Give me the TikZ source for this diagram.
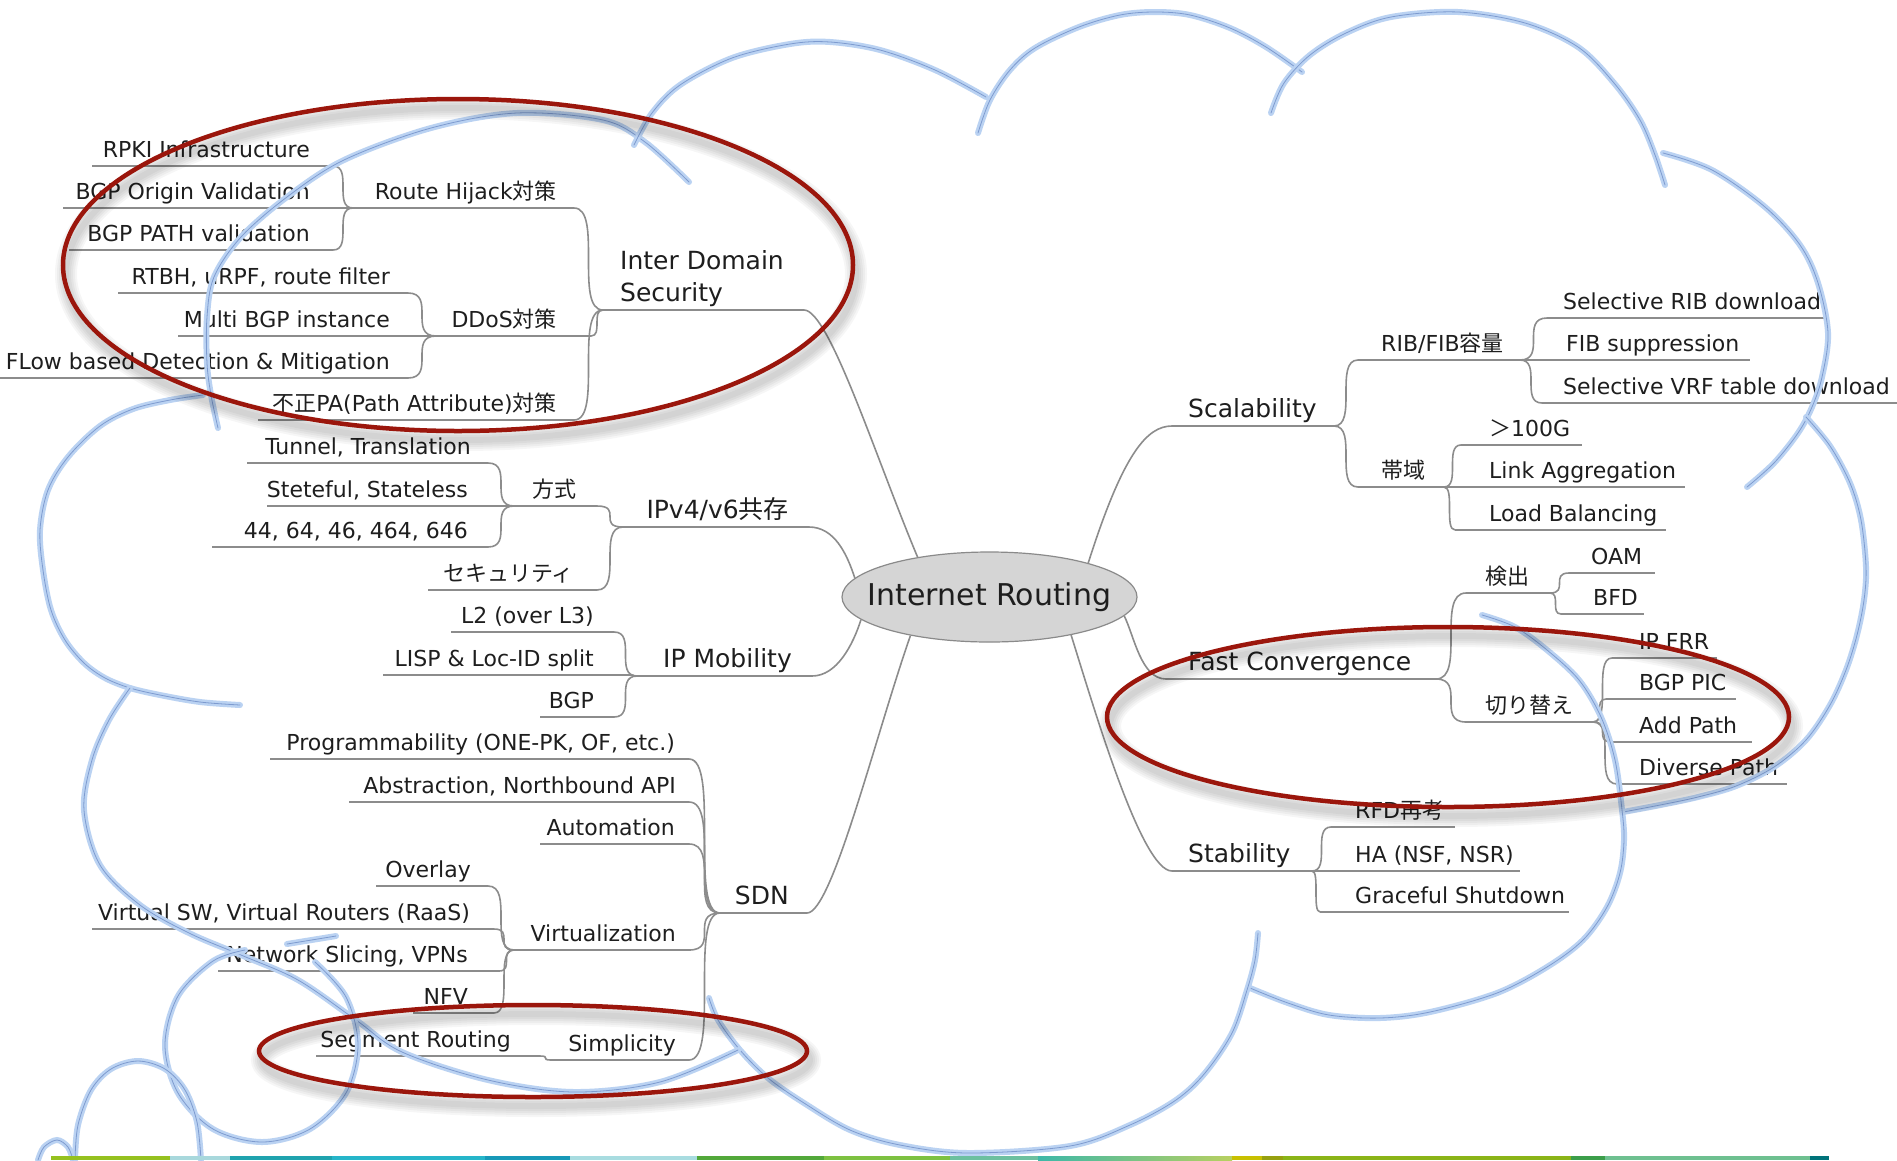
\documentclass[tikz,border=0pt]{standalone}
\usepackage{fontspec}
\usetikzlibrary{shapes.geometric}
\setmainfont{DejaVu Sans}
\newfontfamily\jp{Noto Sans CJK JP}
\newcommand\J[1]{{\jp #1}}

\definecolor{ink}{HTML}{1E1E1E}
\definecolor{branchline}{HTML}{8C8C8C}
\definecolor{rootfill}{HTML}{D5D5D5}
\definecolor{rootedge}{HTML}{8A8A8A}
\definecolor{ringred}{RGB}{155,22,12}
\definecolor{cloudlight}{HTML}{BAD2F2}
\definecolor{clouddark}{HTML}{7E9BCF}
\definecolor{stripfrom}{HTML}{3DB8A8}
\definecolor{stripto}{HTML}{B8D060}

\tikzset{
  leaf/.style={font=\fontsize{22}{26}\selectfont, text=ink, inner sep=0pt},
  branch/.style={font=\fontsize{25}{32}\selectfont, text=ink, inner sep=0pt},
  uline/.style={draw=branchline, line width=1.6pt},
  conn/.style={draw=branchline, line width=1.6pt},
  rootnode/.style={ellipse, draw=rootedge, line width=1.2pt, fill=rootfill,
    minimum width=295pt, minimum height=90pt, inner sep=0pt,
    font=\fontsize{30}{36}\selectfont, text=ink},
  ring/.style={draw=ringred, line width=4.5pt},
  ringshadow/.style={draw=black, opacity=0.035},
  cloudwide/.style={draw=cloudlight, line width=6pt, line cap=round},
  cloudthin/.style={draw=clouddark, line width=0.8pt, line cap=round},
}

% topic: [style]{name}{anchor side}{text x}{underline y}{underline x1}{underline x2}{text}
\newcommand\topic[8][leaf]{%
  \node[#1, anchor=base #3] (#2) at (#4,#5-9) {#8};
  \coordinate (#2L) at (#6,#5);
  \coordinate (#2R) at (#7,#5);
  \draw[uline] (#2L) -- (#2R);}
% curved connector between two underline ends
\newcommand\link[2]{\draw[conn] (#1) .. controls (#1 -| #2) and (#2 -| #1) .. (#2);}
% one scalloped stroke of the cloud outline
\newcommand\cloudarc[1]{%
  \draw[cloudwide] plot[smooth, tension=0.55] coordinates {#1};
  \draw[cloudthin] plot[smooth, tension=0.55] coordinates {#1};}
% red highlight ring with a soft shadow
\newcommand\highlight[4]{%
  \foreach \w in {6,10,14,18,22}
    \draw[ringshadow, line width=\w pt] (#1+3,#2+9) ellipse [x radius=#3, y radius=#4];
  \draw[ring] (#1,#2) ellipse [x radius=#3, y radius=#4];}
% one segment of the colour strip: {x1}{x2}{hex colour}
\newcommand\band[3]{\definecolor{bandcol}{HTML}{#3}\fill[bandcol] (#1,1156) rectangle (#2,1160);}

\begin{document}
\begin{tikzpicture}[x=1pt,y=-1pt]
\useasboundingbox (0,0) rectangle (1897,1160);
\fill[white] (0,0) rectangle (1897,1160);

% ---------- central topic ----------
\node[rootnode] (root) at (989.5,597) {\makebox[0pt]{Internet Routing}};

% ---------- Inter Domain Security ----------
\node[branch, anchor=north west, align=left] (ids) at (620,250) {Inter Domain\\Security};
\coordinate (idsL) at (603,310);
\coordinate (idsR) at (804,310);
\draw[uline] (idsL) -- (idsR);
\topic{rh}{east}{557}{208}{353}{574}{Route Hijack\J{対策}}
\topic{rpki}{east}{310}{166}{92}{333}{RPKI Infrastructure}
\topic{bgpov}{east}{310}{208}{63}{340}{BGP Origin Validation}
\topic{bgppv}{east}{310}{250}{69}{333}{BGP PATH validation}
\topic{ddos}{east}{557}{336}{436}{591}{DDoS\J{対策}}
\topic{rtbh}{east}{390}{293}{118}{408}{RTBH, uRPF, route filter}
\topic{mbgp}{east}{390}{336}{178}{425}{Multi BGP instance}
\topic{flow}{east}{390}{378}{0}{408}{FLow based Detection \& Mitigation}
\topic{fpa}{east}{557}{420}{258}{574}{\J{不正}PA(Path Attribute)\J{対策}}
\link{rpkiR}{rhL} \link{bgpovR}{rhL} \link{bgppvR}{rhL}
\link{rtbhR}{ddosL} \link{mbgpR}{ddosL} \link{flowR}{ddosL}
\link{rhR}{idsL} \link{ddosR}{idsL} \link{fpaR}{idsL}

% ---------- IPv4/v6 ----------
\topic[branch]{ipv}{east}{789}{527}{623}{809}{IPv4/v6\J{共存}}
\topic{hoshiki}{east}{577}{506}{514}{597}{\J{方式}}
\topic{tunnel}{east}{471}{463}{247}{488}{Tunnel, Translation}
\topic{stful}{east}{468}{506}{267}{505}{Steteful, Stateless}
\topic{nums}{east}{468}{547}{212}{488}{44, 64, 46, 464, 646}
\topic{sec}{east}{574}{590}{428}{597}{\J{セキュリティ}}
\link{tunnelR}{hoshikiL} \link{stfulR}{hoshikiL} \link{numsR}{hoshikiL}
\link{hoshikiR}{ipvL} \link{secR}{ipvL}

% ---------- IP Mobility ----------
\topic[branch]{ipm}{east}{792}{676}{637}{812}{IP Mobility}
\topic{ltwo}{east}{594}{632}{451}{614}{L2 (over L3)}
\topic{lisp}{east}{594}{675}{383}{630}{LISP \& Loc-ID split}
\topic{bgp}{east}{594}{717}{540}{614}{BGP}
\link{ltwoR}{ipmL} \link{lispR}{ipmL} \link{bgpR}{ipmL}

% ---------- SDN ----------
\topic[branch]{sdn}{east}{789}{913}{720}{807}{SDN}
\topic{prog}{east}{675}{759}{270}{689}{Programmability (ONE-PK, OF, etc.)}
\topic{abst}{east}{676}{802}{349}{689}{Abstraction, Northbound API}
\topic{auto}{east}{675}{844}{540}{689}{Automation}
\topic{virt}{east}{676}{950}{514}{689}{Virtualization}
\topic{overlay}{east}{471}{886}{376}{488}{Overlay}
\topic{vsw}{east}{470}{929}{92}{494}{Virtual SW, Virtual Routers (RaaS)}
\topic{nslice}{east}{468}{971}{218}{499}{Network Slicing, VPNs}
\topic{nfv}{east}{468}{1013}{413}{494}{NFV}
\topic{simp}{east}{676}{1060}{551}{689}{Simplicity}
\topic{segr}{east}{511}{1056}{316}{540}{Segment Routing}
\link{progR}{sdnL} \link{abstR}{sdnL} \link{autoR}{sdnL}
\link{virtR}{sdnL} \link{simpR}{sdnL}
\link{overlayR}{virtL} \link{vswR}{virtL} \link{nsliceR}{virtL} \link{nfvR}{virtL}
\link{segrR}{simpL}

% ---------- Scalability ----------
\topic[branch]{scal}{west}{1188}{426}{1172}{1334}{Scalability}
\topic{ribfib}{west}{1381}{360}{1358}{1520}{RIB/FIB\J{容量}}
\topic{srib}{west}{1563}{318}{1547}{1825}{Selective RIB download}
\topic{fibs}{west}{1566}{360}{1530}{1750}{FIB suppression}
\topic{svrf}{west}{1563}{403}{1542}{1897}{Selective VRF table download}
\topic{band}{west}{1381}{487}{1358}{1444}{\J{帯域}}
\topic{ghund}{west}{1489}{445}{1461}{1582}{\J{＞}100G}
\topic{link}{west}{1489}{487}{1455}{1685}{Link Aggregation}
\topic{load}{west}{1489}{530}{1455}{1666}{Load Balancing}
\link{scalR}{ribfibL} \link{scalR}{bandL}
\link{ribfibR}{sribL} \link{ribfibR}{fibsL} \link{ribfibR}{svrfL}
\link{bandR}{ghundL} \link{bandR}{linkL} \link{bandR}{loadL}

% ---------- Fast Convergence ----------
\topic[branch]{fc}{west}{1188}{679}{1166}{1436}{Fast Convergence}
\topic{ken}{west}{1485}{593}{1466}{1550}{\J{検出}}
\topic{oam}{west}{1591}{573}{1569}{1655}{OAM}
\topic{bfd}{west}{1593}{614}{1561}{1644}{BFD}
\topic{kir}{west}{1485}{722}{1466}{1593}{\J{切り替え}}
\topic{ipfrr}{west}{1639}{658}{1612}{1717}{IP FRR}
\topic{bgppic}{west}{1639}{699}{1606}{1736}{BGP PIC}
\topic{addp}{west}{1639}{742}{1612}{1752}{Add Path}
\topic{divp}{west}{1639}{784}{1617}{1787}{Diverse Path}
\link{fcR}{kenL} \link{fcR}{kirL}
\link{kenR}{oamL} \link{kenR}{bfdL}
\link{kirR}{ipfrrL} \link{kirR}{bgppicL} \link{kirR}{addpL} \link{kirR}{divpL}

% ---------- Stability ----------
\topic[branch]{stab}{west}{1188}{871}{1172}{1312}{Stability}
\topic{rfd}{west}{1355}{827}{1331}{1455}{RFD\J{再考}}
\topic{ha}{west}{1355}{871}{1320}{1520}{HA (NSF, NSR)}
\topic{grace}{west}{1355}{912}{1320}{1569}{Graceful Shutdown}
\link{stabR}{rfdL} \link{stabR}{haL} \link{stabR}{graceL}

% ---------- main branches to the central topic ----------
\draw[conn] (idsR) .. controls +(25,0) and +(-42,-100) .. (root.151);
\draw[conn] (ipvR) .. controls +(25,0) and +(-8,-25) .. (root.172);
\draw[conn] (ipmR) .. controls +(25,0) and +(-8,25) .. (root.190);
\draw[conn] (sdnR) .. controls +(25,0) and +(-35,100) .. (root.206);
\draw[conn] (scalL) .. controls +(-25,0) and +(35,-110) .. (root.19);
\draw[conn] (fcL) .. controls +(-25,0) and +(10,20) .. (root.352);
\draw[conn] (stabL) .. controls +(-30,0) and +(25,80) .. (root.335);

% ---------- cloud outline ----------
\cloudarc{(218,428) (211,395) (207,363) (207,317) (214,277) (241,237) (287,197) (344,160) (431,128) (517,113) (603,120) (645,142) (689,182)}
\cloudarc{(634,145) (652,113) (680,85) (732,58) (790,44) (830,42) (880,50) (935,70) (986,97)}
\cloudarc{(978,133) (990,100) (1010,70) (1035,48) (1079,27) (1120,15) (1155,12) (1190,15) (1230,28) (1266,47) (1302,72)}
\cloudarc{(1271,113) (1284,83) (1310,55) (1346,33) (1391,17) (1458,12) (1525,23) (1578,47) (1614,83) (1640,120) (1655,155) (1665,185)}
\cloudarc{(1663,153) (1712,170) (1765,207) (1800,245) (1818,283) (1828,333) (1822,377) (1812,407) (1798,433) (1774,463) (1747,487)}
\cloudarc{(1806,417) (1830,446) (1850,483) (1861,520) (1866,567) (1864,600) (1857,635) (1846,670) (1830,705) (1806,740) (1774,767) (1736,786) (1698,797) (1660,805) (1623,812)}
\cloudarc{(1482,615) (1515,627) (1547,650) (1579,680) (1601,717) (1615,760) (1622,810) (1624,840) (1620,873) (1607,907) (1583,940) (1547,967) (1497,993) (1430,1012) (1380,1018) (1329,1015) (1288,1003) (1250,988)}
\cloudarc{(1258,933) (1255,960) (1247,990) (1232,1033) (1205,1073) (1176,1100) (1130,1125) (1070,1146) (968,1153) (900,1145) (850,1130) (804,1103) (768,1078) (740,1050) (718,1020) (709,998)}
\cloudarc{(203,395) (170,400) (133,409) (100,426) (68,457) (48,490) (40,530) (43,570) (51,610) (65,640) (84,663) (105,678) (130,688) (160,695) (200,702) (240,705)}
\cloudarc{(130,688) (109,720) (92,760) (84,810) (100,865) (140,905) (189,933) (241,955) (298,980) (356,1020) (402,1052) (488,1080) (574,1092) (660,1082) (738,1050)}
\cloudarc{(287,944) (336,936)}
\cloudarc{(245,950) (213,961) (178,996) (165,1045) (178,1093) (213,1129) (262,1142) (310,1129) (346,1093) (358,1045) (346,997) (315,962)}
\cloudarc{(75,1160) (78,1125) (91,1090) (111,1069) (138,1061) (165,1069) (185,1090) (197,1122) (201,1160)}
\cloudarc{(38,1160) (44,1147) (57,1140) (68,1147) (73,1160)}

% ---------- highlight rings ----------
\highlight{458}{265}{395}{166}
\highlight{1448}{717}{341}{90}
\highlight{533}{1051}{274}{46}

% ---------- colour strip along the bottom ----------
\band{51}{170}{95C11F}
\band{170}{230}{A8D8DC}
\band{230}{332}{1FA3AE}
\band{332}{485}{26B5C9}
\band{485}{570}{1799B8}
\band{570}{697}{A8DCE0}
\band{697}{824}{52A83A}
\band{824}{950}{7DC141}
\band{950}{1038}{6CC0A0}
\shade[left color=stripfrom, right color=stripto] (1038,1156) rectangle (1232,1160);
\band{1232}{1262}{C8C000}
\band{1262}{1283}{96A010}
\band{1283}{1571}{8AB418}
\band{1571}{1605}{3C9E4A}
\band{1605}{1810}{6EC090}
\band{1810}{1829}{00737A}
\end{tikzpicture}
\end{document}
